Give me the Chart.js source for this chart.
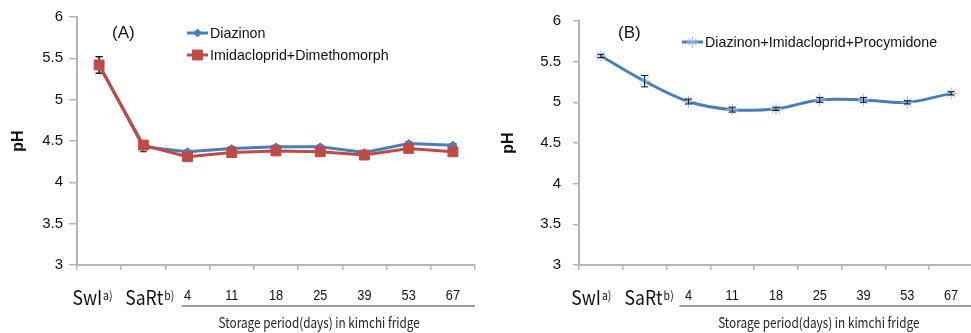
<!DOCTYPE html>
<html>
<head>
<meta charset="utf-8">
<script src="https://cdn.jsdelivr.net/npm/chart.js@4"></script>
<style>
html, body { margin: 0; padding: 0; background: #fff; overflow: hidden; width: 971px; height: 333px; }
.box { position: absolute; top: 0; height: 333px; }
#boxA { left: 0; width: 490px; }
#boxB { left: 490px; width: 490px; }
</style>
</head>
<body>
<div class="box" id="boxA"><canvas id="chartA" width="490" height="333"></canvas></div>
<div class="box" id="boxB"><canvas id="chartB" width="490" height="333"></canvas></div>
<script>
// x categories (first two have superscript notes)
const categories = ["SwI", "SaRt", "4", "11", "18", "25", "39", "53", "67"];
const superscripts = ["a)", "b)", "", "", "", "", "", "", ""];
const xTitle = "Storage period(days) in kimchi fridge";

// (A)
const diazinonPH = [5.42, 4.43, 4.37, 4.41, 4.43, 4.43, 4.36, 4.47, 4.45];
const diazinonErr = [0.10, 0.06, 0.02, 0.02, 0.02, 0.02, 0.02, 0.02, 0.02];
const imiDimPH = [5.42, 4.45, 4.31, 4.36, 4.38, 4.37, 4.33, 4.41, 4.37];
const imiDimErr = [0.10, 0.05, 0.02, 0.02, 0.02, 0.02, 0.02, 0.02, 0.02];

// (B)
const mixPH = [5.57, 5.26, 5.01, 4.91, 4.92, 5.03, 5.03, 5.00, 5.11];
const mixErr = [0.02, 0.07, 0.03, 0.03, 0.02, 0.03, 0.03, 0.02, 0.02];

const yMin = 3, yMax = 6, yStep = 0.5;

const BLUE = "#4a7ebb";
const RED = "#be4b48";
const AXIS = "#b5b5b5";

function drawErrors(chart) {
    const { ctx, scales: { x, y } } = chart;
    ctx.save();
    ctx.strokeStyle = "#111";
    ctx.lineWidth = 1;
    chart.data.datasets.forEach(ds => {
        ds.data.forEach((v, i) => {
            const e = ds.errors[i];
            const px = x.getPixelForValue(i);
            const top = y.getPixelForValue(v + e);
            const bot = y.getPixelForValue(v - e);
            ctx.beginPath();
            ctx.moveTo(px, top); ctx.lineTo(px, bot);
            ctx.moveTo(px - 3.5, top); ctx.lineTo(px + 3.5, top);
            ctx.moveTo(px - 3.5, bot); ctx.lineTo(px + 3.5, bot);
            ctx.stroke();
        });
    });
    ctx.restore();
}

const decorPlugin = {
    id: "decor",
    beforeDatasetsDraw(chart, args, o) {
        if (!o.errorsOnTop) drawErrors(chart);
    },
    afterDatasetsDraw(chart, args, o) {
        if (o.errorsOnTop) drawErrors(chart);
    },
    afterDraw(chart, args, o) {
        const { ctx, scales: { x }, chartArea } = chart;
        ctx.save();
        ctx.fillStyle = "#111";
        ctx.textBaseline = "alphabetic";

        // category labels
        categories.forEach((c, i) => {
            const cx = x.getPixelForValue(i);
            if (superscripts[i]) {
                const shift = i === 0 ? o.swiShift : o.sartShift;
                ctx.font = "20px 'Noto Sans CJK KR'";
                const w1 = ctx.measureText(c).width * 0.88;
                ctx.font = "12px 'Noto Sans CJK KR'";
                const w2 = ctx.measureText(superscripts[i]).width * 0.88;
                const left = cx + shift - (w1 + w2) / 2;
                ctx.save();
                ctx.translate(left, 305);
                ctx.scale(0.88, 1);
                ctx.textAlign = "left";
                ctx.font = "20px 'Noto Sans CJK KR'";
                ctx.fillText(c, 0, 0);
                ctx.font = "12px 'Noto Sans CJK KR'";
                ctx.fillText(superscripts[i], w1 / 0.88 + 1, -5);
                ctx.restore();
            } else {
                ctx.save();
                ctx.translate(cx, 300);
                ctx.scale(0.85, 1);
                ctx.textAlign = "center";
                ctx.font = "15px 'Liberation Sans'";
                ctx.fillText(c, 0, 0);
                ctx.restore();
            }
        });

        // underline + axis title
        ctx.strokeStyle = "#7a7a7a";
        ctx.lineWidth = 1.5;
        ctx.beginPath();
        ctx.moveTo(x.getPixelForValue(2) + o.lineStart, 306);
        ctx.lineTo(chartArea.right, 306);
        ctx.stroke();
        ctx.save();
        ctx.translate(x.getPixelForValue(5) - 1, 328);
        ctx.scale(0.84, 1);
        ctx.textAlign = "center";
        ctx.font = "14px 'Noto Sans CJK KR'";
        ctx.fillStyle = "#222";
        ctx.fillText(xTitle, 0, 0);
        ctx.restore();

        // panel letter
        ctx.textAlign = "left";
        ctx.textBaseline = "middle";
        ctx.font = "17px 'Liberation Sans'";
        ctx.fillStyle = "#111";
        ctx.fillText(o.panel, o.panelX, 33);

        // legend
        chart.data.datasets.forEach((ds, i) => {
            const ly = o.legendY + i * 22;
            ctx.strokeStyle = ds.borderColor;
            ctx.lineWidth = 3;
            ctx.beginPath();
            ctx.moveTo(o.legendX, ly);
            ctx.lineTo(o.legendX + 21, ly);
            ctx.stroke();
            ctx.fillStyle = ds.pointBackgroundColor;
            ctx.strokeStyle = ds.pointBorderColor;
            ctx.lineWidth = ds.pointBorderWidth;
            Chart.helpers.drawPoint(ctx, {
                pointStyle: ds.pointStyle,
                radius: ds.pointRadius,
                rotation: 0,
                borderWidth: ds.pointBorderWidth
            }, o.legendX + 10.5, ly);
            ctx.fillStyle = "#111";
            ctx.font = "15px 'Liberation Sans'";
            ctx.save();
            ctx.translate(o.legendX + 23, ly + 1);
            ctx.scale(0.95, 1);
            ctx.fillText(ds.label, 0, 0);
            ctx.restore();
        });
        ctx.restore();
    }
};

function makeOptions(yWidth, padRight, tickLen, tickPad, decor) {
    return {
        responsive: false,
        animation: false,
        layout: { padding: { top: 17, right: padRight, left: 0, bottom: 0 } },
        plugins: {
            legend: { display: false },
            tooltip: { enabled: false },
            decor: decor
        },
        scales: {
            x: {
                type: "category",
                offset: true,
                grid: { offset: true, drawOnChartArea: false, drawTicks: true, tickLength: 5, color: AXIS, lineWidth: 1.5 },
                border: { color: AXIS, width: 2 },
                ticks: { display: false },
                afterFit(scale) { scale.height = 68; }
            },
            y: {
                min: yMin,
                max: yMax,
                grid: { drawOnChartArea: false, drawTicks: true, tickLength: tickLen, color: AXIS, lineWidth: 1.5 },
                border: { color: AXIS, width: 2 },
                ticks: {
                    stepSize: yStep,
                    padding: tickPad,
                    color: "#111",
                    font: { family: "'Liberation Sans'", size: 15 },
                    callback: v => String(v)
                },
                title: {
                    display: true,
                    text: "pH",
                    color: "#111",
                    font: { family: "'Liberation Sans'", size: 16, weight: "bold" },
                    padding: { top: 9, bottom: 0 }
                },
                afterFit(scale) { scale.width = yWidth; }
            }
        }
    };
}

new Chart(document.getElementById("chartA"), {
    type: "line",
    data: {
        labels: categories,
        datasets: [{
            label: "Diazinon",
            data: diazinonPH,
            errors: diazinonErr,
            borderColor: BLUE,
            borderWidth: 3,
            pointStyle: "rectRot",
            pointRadius: 4,
            pointBackgroundColor: BLUE,
            pointBorderColor: BLUE,
            pointBorderWidth: 1,
            tension: 0,
            order: 1
        }, {
            label: "Imidacloprid+Dimethomorph",
            data: imiDimPH,
            errors: imiDimErr,
            borderColor: RED,
            borderWidth: 3,
            pointStyle: "rect",
            pointRadius: 7,
            pointBackgroundColor: RED,
            pointBorderColor: RED,
            pointBorderWidth: 1,
            tension: 0,
            order: 0
        }]
    },
    options: makeOptions(77, 15, 8, 6, {
        panel: "(A)", panelX: 112, legendX: 187, legendY: 33,
        swiShift: -7, sartShift: 6, lineStart: -6, errorsOnTop: false
    }),
    plugins: [decorPlugin]
});

new Chart(document.getElementById("chartB"), {
    type: "line",
    data: {
        labels: categories,
        datasets: [{
            label: "Diazinon+Imidacloprid+Procymidone",
            data: mixPH,
            errors: mixErr,
            borderColor: BLUE,
            borderWidth: 3,
            pointStyle: "star",
            pointRadius: 6,
            pointBackgroundColor: "#a9c6ea",
            pointBorderColor: "#9fc0e8",
            pointBorderWidth: 1,
            tension: 0.35
        }]
    },
    options: makeOptions(89, 1, 6, 12, {
        panel: "(B)", panelX: 128, legendX: 192, legendY: 42,
        swiShift: -10, sartShift: 4, lineStart: -9, errorsOnTop: true
    }),
    plugins: [decorPlugin]
});
</script>
</body>
</html>
